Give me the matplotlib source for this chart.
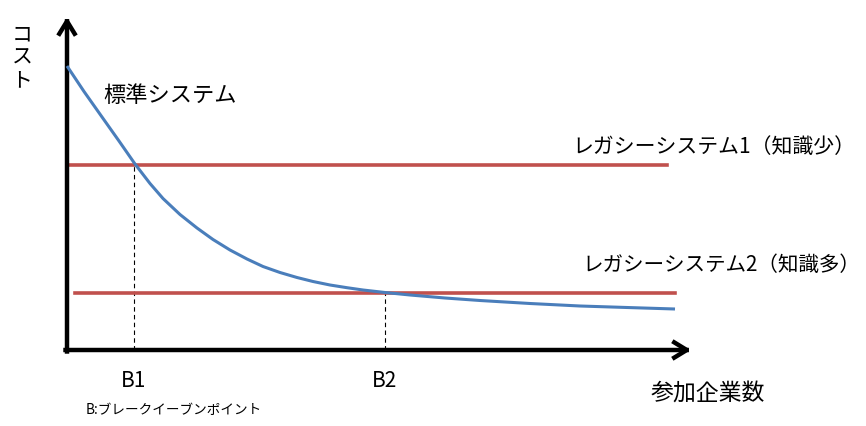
import matplotlib
matplotlib.use("Agg")
import matplotlib.pyplot as plt

plt.rcParams['font.family'] = ['Noto Sans CJK JP', 'DejaVu Sans']

# participants (x) and cost (y), origin at the axis corner
std_x = [0, 17, 35, 52, 68, 83, 96, 113, 130, 146, 163, 180, 196, 213, 230, 246,
         263, 280, 296, 318, 343, 378, 413, 463, 513, 560, 608]
std_cost = [284, 258.5, 233, 209, 186, 166.5, 151.5, 135.5, 122, 110.5, 100, 91, 83.5, 77.5, 72.5, 68.5,
            65, 62.3, 60, 57.5, 55, 52, 49.5, 46.5, 44, 42.5, 41]

legacy1_cost = 185
legacy1_span = [0, 600]
legacy2_cost = 57.5
legacy2_span = [8, 608]

breakeven_x = [67, 318]
breakeven_cost = [185, 57.5]
breakeven_labels = ['B1', 'B2']

blue = '#4A7EBB'
red = '#C0504D'

fig = plt.figure(figsize=(8.66, 4.26), dpi=100)
ax = fig.add_axes([0, 0, 1, 1])
ax.set_xlim(-67, 799)
ax.set_ylim(-76, 350)
ax.axis('off')

# axes with arrow heads
arrow = dict(arrowstyle='->, head_length=0.9, head_width=0.55', lw=3.2, color='black',
             shrinkA=0, shrinkB=0, capstyle='projecting')
ax.annotate('', xy=(0, 333), xytext=(0, -1.5), arrowprops=arrow)
ax.annotate('', xy=(624, 0), xytext=(-1.5, 0), arrowprops=arrow)

# break-even guides
for bx, bc in zip(breakeven_x, breakeven_cost):
    ax.plot([bx, bx], [0, bc], color='black', lw=0.8, ls=(0, (4, 3)), zorder=1)

ax.plot(legacy1_span, [legacy1_cost] * 2, color=red, lw=2.6, zorder=2)
ax.plot(legacy2_span, [legacy2_cost] * 2, color=red, lw=2.6, zorder=2)
ax.plot(std_x, std_cost, color=blue, lw=2.2, zorder=3, solid_capstyle='butt',
        solid_joinstyle='round')

ax.text(36, 255, '標準システム', fontsize=16, ha='left', va='center')
ax.text(505, 203, 'レガシーシステム1（知識少）', fontsize=15, ha='left', va='center')
ax.text(515, 85, 'レガシーシステム2（知識多）', fontsize=14.8, ha='left', va='center')

for bx, lab in zip(breakeven_x, breakeven_labels):
    ax.text(bx, -31, lab, fontsize=15, ha='center', va='center')

ax.text(19, -60, 'B:ブレークイーブンポイント', fontsize=9.8, ha='left', va='center')
ax.text(641, -43, '参加企業数', fontsize=16.5, ha='center', va='center')
ax.text(-45, 326, 'コ\nス\nト', fontsize=15, ha='center', va='top', linespacing=1.05)

fig.savefig('out.png', dpi=100)
